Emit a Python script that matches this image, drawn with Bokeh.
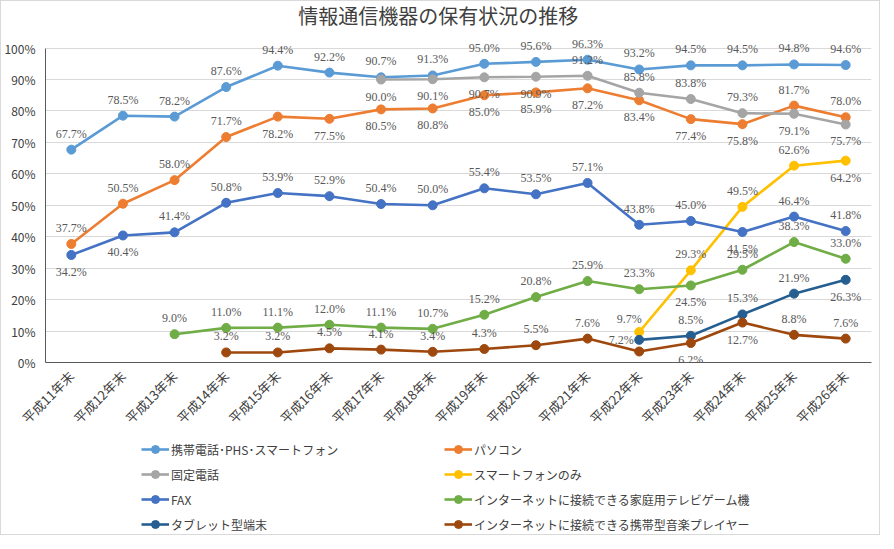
import math
from bokeh.plotting import figure
from bokeh.layouts import column
from bokeh.models import ColumnDataSource, LabelSet, Label, Legend, LegendItem, FixedTicker, Range1d
from bokeh.embed import file_html
from bokeh.resources import INLINE

# ---------------- data ----------------
categories = ["平成11年末", "平成12年末", "平成13年末", "平成14年末", "平成15年末", "平成16年末",
              "平成17年末", "平成18年末", "平成19年末", "平成20年末", "平成21年末", "平成22年末",
              "平成23年末", "平成24年末", "平成25年末", "平成26年末"]

mobile = [67.7, 78.5, 78.2, 87.6, 94.4, 92.2, 90.7, 91.3, 95.0, 95.6, 96.3, 93.2, 94.5, 94.5, 94.8, 94.6]
pc = [37.7, 50.5, 58.0, 71.7, 78.2, 77.5, 80.5, 80.8, 85.0, 85.9, 87.2, 83.4, 77.4, 75.8, 81.7, 78.0]
fixed = [None, None, None, None, None, None, 90.0, 90.1, 90.7, 90.9, 91.2, 85.8, 83.8, 79.3, 79.1, 75.7]
smart_only = [None, None, None, None, None, None, None, None, None, None, None, 9.7, 29.3, 49.5, 62.6, 64.2]
fax = [34.2, 40.4, 41.4, 50.8, 53.9, 52.9, 50.4, 50.0, 55.4, 53.5, 57.1, 43.8, 45.0, 41.5, 46.4, 41.8]
game = [None, None, 9.0, 11.0, 11.1, 12.0, 11.1, 10.7, 15.2, 20.8, 25.9, 23.3, 24.5, 29.5, 38.3, 33.0]
tablet = [None, None, None, None, None, None, None, None, None, None, None, 7.2, 8.5, 15.3, 21.9, 26.3]
music = [None, None, None, 3.2, 3.2, 4.5, 4.1, 3.4, 4.3, 5.5, 7.6, 3.5, 6.2, 12.7, 8.8, 7.6]

series_names = ["携帯電話･PHS･スマートフォン", "パソコン", "固定電話", "スマートフォンのみ",
                "FAX", "インターネットに接続できる家庭用テレビゲーム機", "タブレット型端末",
                "インターネットに接続できる携帯型音楽プレイヤー"]
series_values = [mobile, pc, fixed, smart_only, fax, game, tablet, music]

y_ticks = [0, 10, 20, 30, 40, 50, 60, 70, 80, 90, 100]
title_text = "情報通信機器の保有状況の推移"

# ---------------- styles ----------------
colors = ["#5B9BD5", "#ED7D31", "#A5A5A5", "#FFC000", "#4472C4", "#70AD47", "#255E91", "#9E480E"]
# label placement per point: a=above, b=below, l=left, L=above-left
label_pos = ["aaaaaaaaaaaaaaaa", "aaaabbbbbbbbbbaa", "bbbbaaaabb", "Laaab",
             "bbaaaaaaaaaaabaa", "aaaaaaaaaabaaa", "laaab", "aaaaaaaabbbaa"]
offsets = {"a": (0, 16), "b": (0, -17), "l": (-18, 0), "L": (-10, 13)}
FONT = "Noto Sans CJK JP"
TXT = "#595959"
W = 878


def bare_figure(height):
    f = figure(width=W, height=height, output_backend="svg", toolbar_location=None,
               x_range=Range1d(0, 1), y_range=Range1d(0, 1),
               x_axis_type=None, y_axis_type=None,
               min_border_left=0, min_border_right=0, min_border_top=0, min_border_bottom=0)
    f.outline_line_color = None
    f.grid.visible = False
    f.background_fill_color = "white"
    f.border_fill_color = "white"
    return f


# title strip
tf = bare_figure(30)
tf.add_layout(Label(x=0.306, y=0.53, text=title_text, text_align="left", text_baseline="middle",
                    text_font=FONT, text_font_size="20px", text_color="#404040"))

# main chart
p = figure(width=W, height=408, output_backend="svg", toolbar_location=None,
           x_range=Range1d(-0.5, len(categories) - 0.5), y_range=Range1d(0, 104),
           min_border_left=44, min_border_right=8, min_border_top=4, min_border_bottom=77)
p.outline_line_color = None
p.background_fill_color = "white"
p.border_fill_color = "white"

p.xgrid.grid_line_color = None
p.ygrid.grid_line_color = "#D9D9D9"
p.ygrid.ticker = FixedTicker(ticks=y_ticks)

p.yaxis.ticker = FixedTicker(ticks=y_ticks)
p.yaxis.bounds = (y_ticks[0], y_ticks[-1])
p.yaxis.major_label_overrides = {t: f"{t}%" for t in y_ticks}
p.xaxis.ticker = FixedTicker(ticks=list(range(len(categories))))
p.xaxis.major_label_overrides = {i: c for i, c in enumerate(categories)}
p.xaxis.major_label_orientation = math.pi / 4
for ax in (p.xaxis, p.yaxis):
    ax.major_tick_line_color = None
    ax.minor_tick_line_color = None
    ax.major_tick_out = 0
    ax.axis_line_color = "#595959"
    ax.major_label_text_font = FONT
    ax.major_label_text_color = "#404040"
p.yaxis.major_label_text_font_size = "12px"
p.yaxis.major_label_standoff = 10
p.xaxis.major_label_text_font_size = "13px"
p.xaxis.major_label_standoff = 11

# legend strip
lg = bare_figure(95)
lg.x_range = Range1d(-200, -199)
lg.y_range = Range1d(-200, -199)

items = []
for name, vals, col, pos in zip(series_names, series_values, colors, label_pos):
    xs = [i for i, v in enumerate(vals) if v is not None]
    ys = [v for v in vals if v is not None]
    dx = [offsets[c][0] for c in pos]
    dy = [offsets[c][1] for c in pos]
    src = ColumnDataSource(dict(x=xs, y=ys, t=[f"{v:.1f}%" for v in ys], dx=dx, dy=dy))
    p.line("x", "y", source=src, line_color=col, line_width=2.6)
    p.scatter("x", "y", source=src, size=9, fill_color=col, line_color=col)
    p.add_layout(LabelSet(x="x", y="y", text="t", source=src, x_offset="dx", y_offset="dy",
                          text_align="center", text_baseline="middle",
                          text_font=FONT, text_font_size="12px", text_color=TXT))
    lln = lg.line("x", "y", source=src, line_color=col, line_width=2.6)
    lsc = lg.scatter("x", "y", source=src, size=7, fill_color=col, line_color=col)
    items.append(LegendItem(label=name, renderers=[lln, lsc]))

legend = Legend(items=items, location=(96, 0), orientation="horizontal", ncols=2,
                glyph_width=28, glyph_height=20, label_height=20, label_width=268,
                label_standoff=2, spacing=5, padding=0, margin=0,
                label_text_font=FONT, label_text_font_size="12px", label_text_color="#404040",
                background_fill_alpha=0, border_line_color=None)
lg.add_layout(legend)

layout = column(tf, p, lg, spacing=0)
layout.styles = {"border": "1px solid #d9d9d9"}

open("out.html", "w").write(file_html(layout, INLINE))
